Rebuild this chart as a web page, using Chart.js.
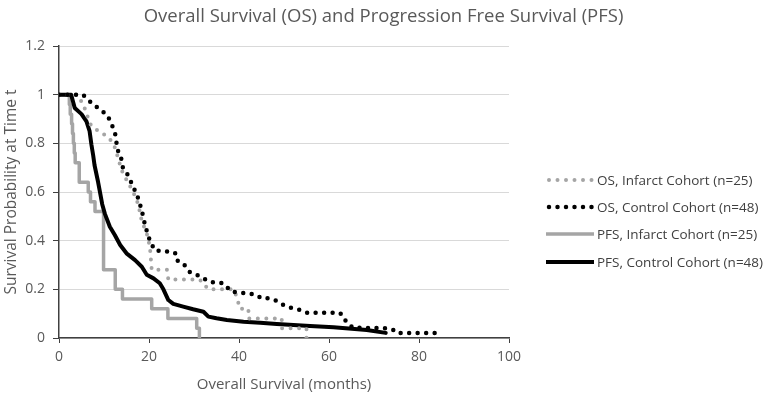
<!DOCTYPE html>
<html>
<head>
<meta charset="utf-8">
<script src="https://cdn.jsdelivr.net/npm/chart.js@4.4.0/dist/chart.umd.min.js"></script>
<style>
  body { margin: 0; background: #fff; }
  #wrap { position: relative; width: 767px; height: 397px; font-family: "Open Sans", sans-serif; }
  #title { position: absolute; left: 0; width: 767px; top: 2px; text-align: center; font-size: 18.5px; color: #595959; }
  #legend { position: absolute; left: 546px; top: 166.5px; }
  .row { display: flex; align-items: center; height: 27.2px; font-size: 13.5px; color: #404040; white-space: nowrap; }
  .row svg { margin-right: 1px; }
</style>
</head>
<body>
<div id="wrap">
  <canvas id="myChart" width="767" height="397"></canvas>
  <div id="title">Overall Survival (OS) and Progression Free Survival (PFS)</div>
  <div id="legend"></div>
</div>
<script>
"use strict";

const xTicks = [0, 20, 40, 60, 80, 100];
const yTicks = [0, 0.2, 0.4, 0.6, 0.8, 1, 1.2];

const seriesNames = [
  "OS, Infarct Cohort (n=25)",
  "OS, Control Cohort (n=48)",
  "PFS, Infarct Cohort (n=25)",
  "PFS, Control Cohort (n=48)",
];

// OS, infarct cohort
const osInfarctX = [0, 4, 5.4, 6.9, 8.7, 10.6, 12.1, 12.8, 13.9, 15, 16.5, 17.6, 18.4, 19.5, 20.2, 20.6, 24, 24.3, 31.3, 33.2, 38.7, 39.5, 40.2, 42.1, 42.1, 49.5, 49.5, 55, 55];
const osInfarctY = [1, 1, 0.96, 0.88, 0.85, 0.83, 0.8, 0.76, 0.69, 0.65, 0.6, 0.55, 0.48, 0.43, 0.375, 0.28, 0.28, 0.24, 0.24, 0.2, 0.2, 0.17, 0.12, 0.12, 0.08, 0.08, 0.04, 0.04, 0];

// OS, control cohort
const osControlX = [0, 5.3, 6.4, 7.6, 8.7, 9.8, 10.9, 11.6, 12.4, 12.7, 13.1, 13.8, 14.2, 15, 15.8, 16.5, 17.3, 18, 18.7, 19.1, 19.5, 20.2, 21.3, 24.3, 25.8, 26.1, 27.6, 29.1, 30.6, 32.1, 33.6, 36.5, 37.6, 38.4, 42.1, 43.9, 45, 46.5, 48, 49.1, 50.6, 52.1, 53.6, 55, 62.4, 63.2, 63.9, 65.4, 72.8, 74.3, 75, 84.7];
const osControlY = [1, 1, 0.98, 0.96, 0.945, 0.93, 0.91, 0.88, 0.85, 0.81, 0.77, 0.74, 0.7, 0.68, 0.65, 0.62, 0.59, 0.55, 0.5, 0.465, 0.44, 0.4, 0.36, 0.355, 0.35, 0.32, 0.307, 0.27, 0.26, 0.245, 0.23, 0.225, 0.204, 0.19, 0.183, 0.177, 0.163, 0.163, 0.156, 0.143, 0.129, 0.122, 0.115, 0.104, 0.104, 0.088, 0.063, 0.042, 0.04, 0.033, 0.021, 0.021];

// PFS, infarct cohort (step curve)
const pfsInfarctX = [0, 2.1, 2.3, 2.5, 2.8, 3.0, 3.2, 3.4, 3.6, 4.5, 6.5, 7.0, 8.0, 9.9, 12.5, 14.1, 20.6, 24.2, 30.6, 31.2];
const pfsInfarctY = [1, 1, 0.96, 0.92, 0.88, 0.84, 0.8, 0.76, 0.72, 0.64, 0.6, 0.56, 0.52, 0.28, 0.2, 0.16, 0.12, 0.08, 0.04, 0];

// PFS, control cohort
const pfsControlX = [0, 2.7, 3.5, 5, 6.1, 6.8, 7.2, 7.6, 7.9, 8.7, 9.2, 9.6, 10.2, 11.3, 12.4, 13.6, 15, 16.9, 18.4, 19.5, 21, 22.4, 23.2, 24.3, 25.4, 27.6, 29.8, 32.1, 33.2, 35, 37.3, 41, 44.7, 48.4, 52.1, 55.8, 61, 68.4, 72.6];
const pfsControlY = [1, 1, 0.945, 0.92, 0.89, 0.85, 0.795, 0.75, 0.71, 0.64, 0.59, 0.55, 0.51, 0.457, 0.423, 0.382, 0.348, 0.32, 0.293, 0.26, 0.245, 0.225, 0.2, 0.156, 0.14, 0.129, 0.118, 0.108, 0.088, 0.081, 0.074, 0.067, 0.063, 0.058, 0.053, 0.049, 0.044, 0.033, 0.021];

const GRAY = "#A5A5A5";
const BLACK = "#000000";

function toPoints(xs, ys) {
  return xs.map((x, i) => ({ x: x, y: ys[i] }));
}

const styles = [
  { color: GRAY, width: 4, dash: [0, 8.5], stepped: false },
  { color: BLACK, width: 4.5, dash: [0, 8.5], stepped: false },
  { color: GRAY, width: 3.5, dash: [], stepped: true },
  { color: BLACK, width: 4, dash: [], stepped: false },
];

const seriesData = [
  toPoints(osInfarctX, osInfarctY),
  toPoints(osControlX, osControlY),
  toPoints(pfsInfarctX, pfsInfarctY),
  toPoints(pfsControlX, pfsControlY),
];

const datasets = seriesNames.map((name, i) => ({
  label: name,
  data: seriesData[i],
  showLine: true,
  borderColor: styles[i].color,
  backgroundColor: styles[i].color,
  borderWidth: styles[i].width,
  borderDash: styles[i].dash,
  borderCapStyle: "round",
  borderJoinStyle: "round",
  stepped: styles[i].stepped,
  pointRadius: 0,
  tension: 0,
}));

// OS dots drawn on top of the PFS lines
datasets[0].order = 2;
datasets[1].order = 1;
datasets[2].order = 4;
datasets[3].order = 3;

const axisColor = "#404040";
const tickFont = { family: "'Open Sans', sans-serif", size: 14 };

const ctx = document.getElementById("myChart").getContext("2d");
const myChart = new Chart(ctx, {
  type: "scatter",
  data: { datasets: datasets },
  options: {
    responsive: false,
    animation: false,
    devicePixelRatio: 1,
    layout: { padding: { top: 46, right: 258, left: 0, bottom: 0 } },
    plugins: {
      legend: { display: false },
      tooltip: { enabled: false },
    },
    scales: {
      x: {
        type: "linear",
        min: 0,
        max: 100,
        afterBuildTicks: (scale) => { scale.ticks = xTicks.map((v) => ({ value: v })); },
        afterFit: (scale) => { scale.height = 59; },
        ticks: { color: "#595959", font: tickFont, padding: 6, maxRotation: 0 },
        grid: { drawOnChartArea: false, drawTicks: true, tickLength: 5, tickColor: axisColor },
        border: { color: axisColor, width: 1.5 },
        title: {
          display: true,
          text: "Overall Survival (months)",
          color: "#595959",
          font: { family: "'Open Sans', sans-serif", size: 15 },
          padding: { top: 0, bottom: 3 },
        },
      },
      y: {
        type: "linear",
        min: 0,
        max: 1.2,
        afterBuildTicks: (scale) => { scale.ticks = yTicks.map((v) => ({ value: v })); },
        afterFit: (scale) => { scale.width = 59; },
        ticks: {
          color: "#595959",
          font: tickFont,
          padding: 8,
          callback: (v) => String(Number(v.toFixed(1))),
        },
        grid: { color: "#D9D9D9", lineWidth: 1, drawTicks: true, tickLength: 6, tickColor: axisColor },
        border: { color: axisColor, width: 1.5 },
        title: {
          display: true,
          text: "Survival Probability at Time t",
          color: "#595959",
          font: { family: "'Open Sans', sans-serif", size: 15.5 },
          padding: { top: 2, bottom: 0 },
        },
      },
    },
  },
});

// legend built from the same series names and styles
const legend = document.getElementById("legend");
seriesNames.forEach((name, i) => {
  const st = styles[i];
  const row = document.createElement("div");
  row.className = "row";
  const dash = st.dash.length ? 'stroke-dasharray="0 8.5" stroke-linecap="round"' : 'stroke-linecap="butt"';
  const x1 = st.dash.length ? 3 : 0;
  row.innerHTML =
    '<svg width="50" height="10"><line x1="' + x1 + '" y1="5" x2="48" y2="5" stroke="' + st.color +
    '" stroke-width="' + st.width + '" ' + dash + '/></svg><span>' + name + "</span>";
  legend.appendChild(row);
});
</script>
</body>
</html>
